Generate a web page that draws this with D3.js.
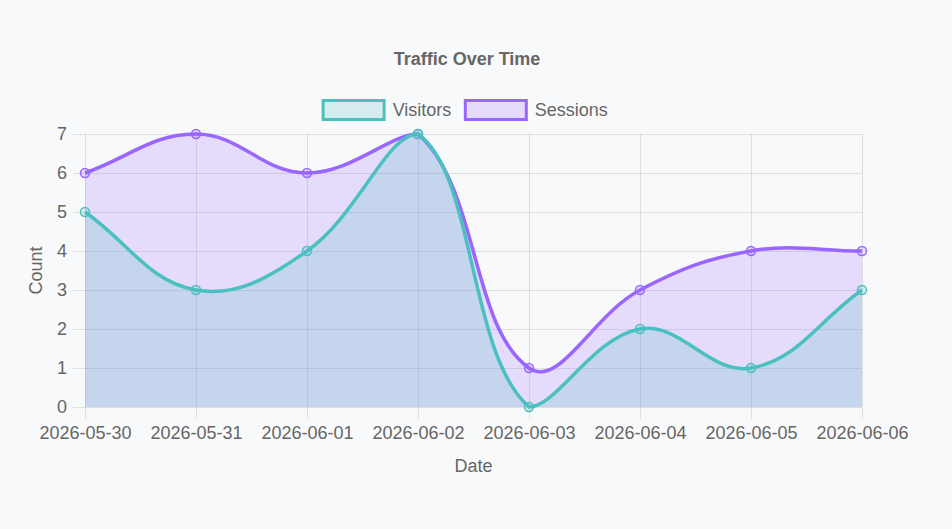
<!DOCTYPE html>
<html>
<head>
<meta charset="utf-8">
<script src="https://cdn.jsdelivr.net/npm/d3@7"></script>
<style>
    html, body { margin: 0; padding: 0; background: #f8f9fa; }
    svg { display: block; font-family: "Liberation Sans", Arial, Helvetica, sans-serif; }
</style>
</head>
<body>
<div id="chart"></div>
<script>
// Data
const dates = ["2026-05-30", "2026-05-31", "2026-06-01", "2026-06-02",
               "2026-06-03", "2026-06-04", "2026-06-05", "2026-06-06"];
const visitors = [5, 3, 4, 7, 0, 2, 1, 3];
const sessions = [6, 7, 6, 7, 1, 3, 4, 4];
const yTicks = [0, 1, 2, 3, 4, 5, 6, 7];

const seriesList = [
    { name: "Visitors", values: visitors, line: "#4bc0c0", fill: "rgba(75, 192, 192, 0.2)" },
    { name: "Sessions", values: sessions, line: "#9966ff", fill: "rgba(153, 102, 255, 0.2)" }
];

const width = 952, height = 529;
const area = { left: 85, right: 862, top: 134, bottom: 407 };
const textColor = "#666";
const gridColor = "rgba(0, 0, 0, 0.1)";

const svg = d3.select("#chart").append("svg")
    .attr("width", width)
    .attr("height", height);

const x = d3.scalePoint().domain(dates).range([area.left, area.right]);
const y = d3.scaleLinear().domain([0, 7]).range([area.bottom, area.top]);

// Y grid + labels
const yAxis = svg.append("g")
    .attr("transform", `translate(${area.left - 12},0)`)
    .call(d3.axisLeft(y).tickValues(yTicks).tickFormat(d3.format("d"))
        .tickSize(-(area.right - area.left + 12)).tickPadding(6));
yAxis.select(".domain").remove();
yAxis.selectAll("line").attr("stroke", gridColor);
yAxis.selectAll("text").attr("fill", textColor).style("font-size", "18px");

// X grid + labels
const xAxis = svg.append("g")
    .attr("transform", `translate(0,${area.top})`)
    .call(d3.axisBottom(x).tickSize(area.bottom - area.top + 12).tickPadding(7));
xAxis.select(".domain").remove();
xAxis.selectAll("line").attr("stroke", gridColor);
xAxis.selectAll("text").attr("fill", textColor).style("font-size", "18px");

// Chart.js style spline (tension 0.4, control points capped to the chart area)
function splinePoints(pts, t) {
    const clampX = v => Math.max(Math.min(v, area.right), area.left);
    const clampY = v => Math.max(Math.min(v, area.bottom), area.top);
    return pts.map((cur, i) => {
        const prev = pts[i - 1] || cur;
        const next = pts[i + 1] || cur;
        const d01 = Math.hypot(cur.x - prev.x, cur.y - prev.y);
        const d12 = Math.hypot(next.x - cur.x, next.y - cur.y);
        let s01 = d01 / (d01 + d12), s12 = d12 / (d01 + d12);
        if (isNaN(s01)) s01 = 0;
        if (isNaN(s12)) s12 = 0;
        const fa = t * s01, fb = t * s12;
        return {
            x: cur.x, y: cur.y,
            cp1x: clampX(cur.x - fa * (next.x - prev.x)),
            cp1y: clampY(cur.y - fa * (next.y - prev.y)),
            cp2x: clampX(cur.x + fb * (next.x - prev.x)),
            cp2y: clampY(cur.y + fb * (next.y - prev.y))
        };
    });
}

function curvePath(pts, closeToBase) {
    const p = d3.path();
    p.moveTo(pts[0].x, pts[0].y);
    for (let i = 1; i < pts.length; i++) {
        p.bezierCurveTo(pts[i - 1].cp2x, pts[i - 1].cp2y, pts[i].cp1x, pts[i].cp1y, pts[i].x, pts[i].y);
    }
    if (closeToBase) {
        p.lineTo(pts[pts.length - 1].x, y(0));
        p.lineTo(pts[0].x, y(0));
        p.closePath();
    }
    return p.toString();
}

seriesList.forEach(s => {
    s.pts = splinePoints(s.values.map((v, i) => ({ x: x(dates[i]), y: y(v) })), 0.4);
});

// fills first (last dataset underneath)
const drawOrder = seriesList.slice().reverse();
drawOrder.forEach(s => {
    svg.append("path")
        .attr("d", curvePath(s.pts, true))
        .attr("fill", s.fill);
});

// lines and points, first dataset on top
drawOrder.forEach(s => {
    svg.append("path")
        .attr("d", curvePath(s.pts, false))
        .attr("fill", "none")
        .attr("stroke", s.line)
        .attr("stroke-width", 3.5);

    svg.append("g").selectAll("circle")
        .data(s.values)
        .join("circle")
        .attr("cx", (d, i) => x(dates[i]))
        .attr("cy", d => y(d))
        .attr("r", 4.5)
        .attr("fill", s.fill)
        .attr("stroke", s.line)
        .attr("stroke-width", 1.5);
});

// Title
svg.append("text")
    .attr("x", 467)
    .attr("y", 59)
    .attr("text-anchor", "middle")
    .attr("dominant-baseline", "central")
    .attr("fill", textColor)
    .style("font-size", "18px")
    .style("font-weight", "bold")
    .text("Traffic Over Time");

// Legend
const legend = svg.append("g");
const boxW = 61, boxH = 19, gap = 7, itemGap = 14;
let items = seriesList.map(s => {
    const g = legend.append("g");
    g.append("rect")
        .attr("width", boxW).attr("height", boxH)
        .attr("fill", s.fill)
        .attr("stroke", s.line)
        .attr("stroke-width", 3);
    const t = g.append("text")
        .attr("x", boxW + 1.5 + gap)
        .attr("y", boxH / 2)
        .attr("dominant-baseline", "central")
        .attr("fill", textColor)
        .style("font-size", "18px")
        .text(s.name);
    return { g, w: boxW + 1.5 + gap + t.node().getComputedTextLength() };
});
const totalW = d3.sum(items, d => d.w) + itemGap * (items.length - 1);
let lx = 464 - totalW / 2;
items.forEach(it => {
    it.g.attr("transform", `translate(${lx + 1.5},100.5)`);
    lx += it.w + itemGap;
});

// Axis titles
svg.append("text")
    .attr("transform", `translate(36,${(area.top + area.bottom) / 2}) rotate(-90)`)
    .attr("text-anchor", "middle")
    .attr("dominant-baseline", "central")
    .attr("fill", textColor)
    .style("font-size", "18px")
    .text("Count");

svg.append("text")
    .attr("x", (area.left + area.right) / 2)
    .attr("y", 466)
    .attr("text-anchor", "middle")
    .attr("dominant-baseline", "central")
    .attr("fill", textColor)
    .style("font-size", "18px")
    .text("Date");
</script>
</body>
</html>
